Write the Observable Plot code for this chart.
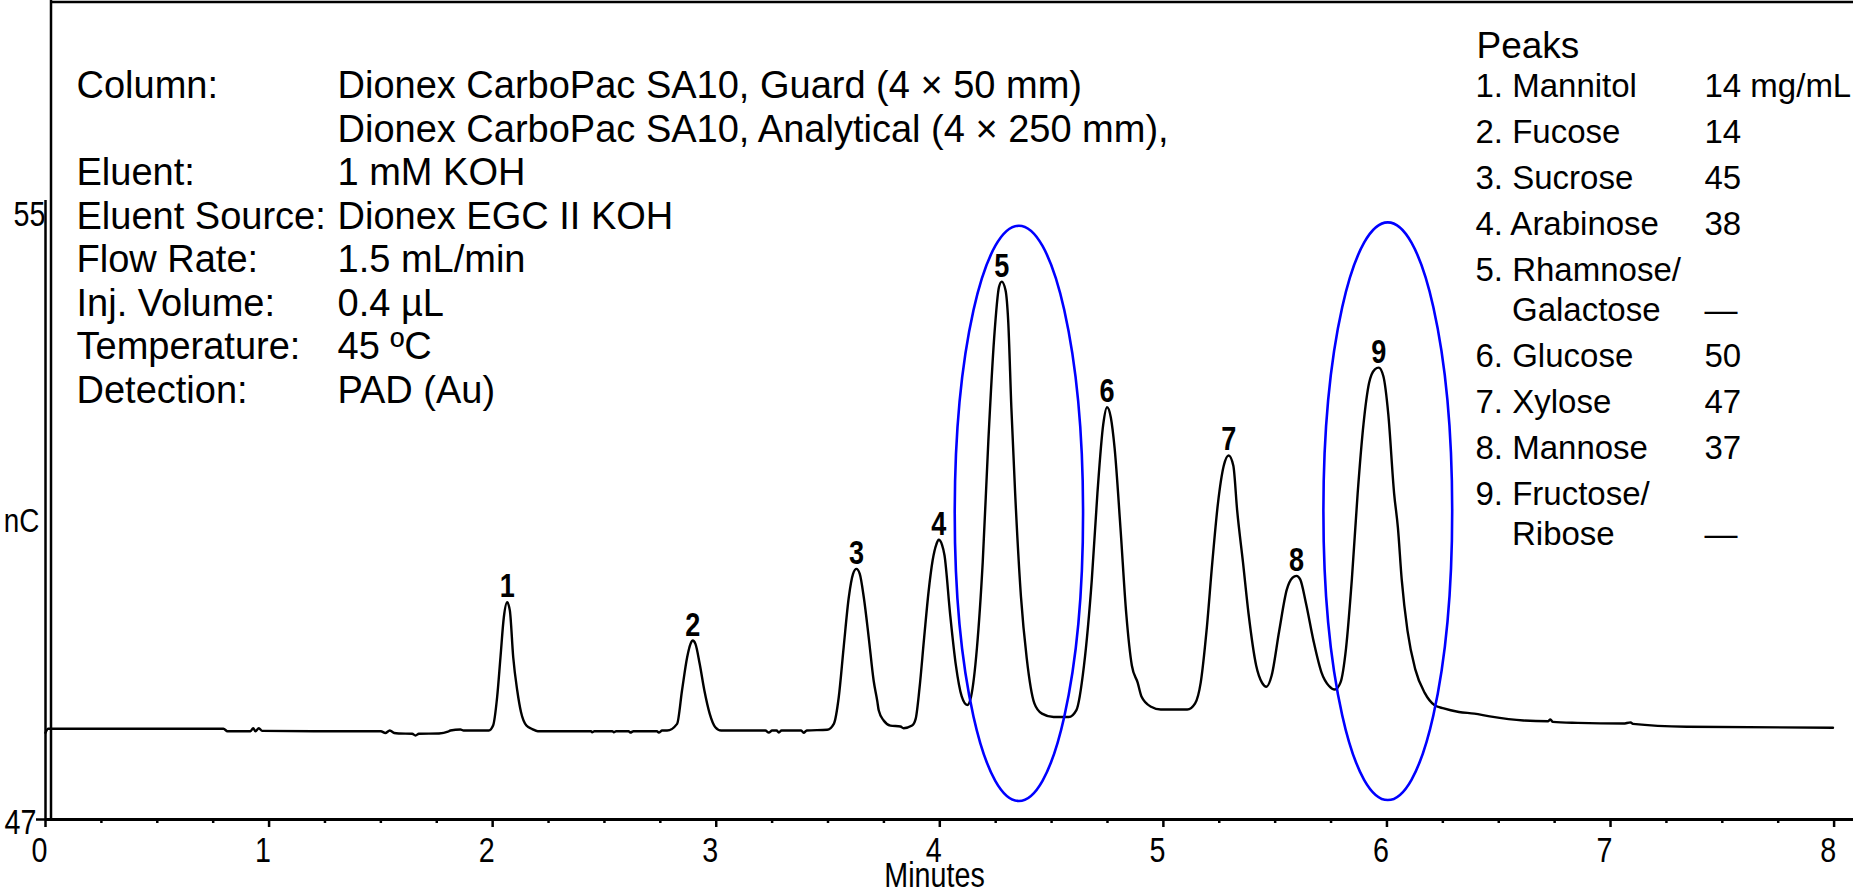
<!DOCTYPE html>
<html>
<head>
<meta charset="utf-8">
<script src="https://cdn.jsdelivr.net/npm/d3@7"></script>
<script src="https://cdn.jsdelivr.net/npm/@observablehq/plot@0.6"></script>
<style>
html, body { margin: 0; padding: 0; background: #ffffff; }
#chart svg { display: block; }
</style>
</head>
<body>
<div id="chart"></div>
<script>
// ---- Chromatogram trace (minutes, nC) ----
const times = [
  0.000, 0.012, 0.036, 0.400, 0.796, 0.814, 0.917, 0.929, 0.939, 0.954, 0.969, 1.200, 1.500, 1.520, 1.540, 1.560,
  1.580, 1.640, 1.655, 1.670, 1.760, 1.800, 1.811, 1.856, 1.870, 1.983,
  2.002, 2.020, 2.035, 2.050, 2.065, 2.077, 2.092, 2.110, 2.127, 2.151, 2.177, 2.202,
  2.300, 2.440, 2.445, 2.455, 2.535, 2.542, 2.552, 2.608, 2.616, 2.630, 2.735, 2.743, 2.758, 2.780,
  2.825, 2.847, 2.870, 2.885, 2.895, 2.907, 2.926, 2.947, 2.971, 2.996, 3.022,
  3.220, 3.235, 3.250, 3.270, 3.280, 3.292, 3.380, 3.391, 3.405, 3.496,
  3.526, 3.548, 3.570, 3.593, 3.612, 3.627, 3.642, 3.660, 3.682, 3.704, 3.720, 3.727, 3.749, 3.779, 3.824, 3.838, 3.876,
  3.892, 3.909, 3.930, 3.950, 3.968, 3.985, 3.995, 4.010, 4.021, 4.046, 4.072, 4.098, 4.123,
  4.140, 4.166, 4.192, 4.217, 4.243, 4.265, 4.277, 4.294, 4.306, 4.320, 4.337, 4.363, 4.389, 4.423, 4.457, 4.509, 4.577,
  4.611, 4.645, 4.680, 4.705, 4.731, 4.748, 4.765, 4.782, 4.808, 4.834, 4.859, 4.885, 4.902, 4.945, 4.988, 5.107,
  5.142, 5.167, 5.193, 5.219, 5.244, 5.270, 5.292, 5.313, 5.330, 5.356, 5.381, 5.415, 5.441, 5.461,
  5.484, 5.518, 5.552, 5.578, 5.595, 5.612, 5.638, 5.672, 5.707, 5.741, 5.767,
  5.792, 5.817, 5.843, 5.869, 5.895, 5.920, 5.946, 5.963, 5.984, 6.006, 6.032, 6.049, 6.066, 6.092, 6.126, 6.169, 6.212,
  6.254, 6.322, 6.391, 6.460, 6.611, 6.720, 6.731, 6.742, 6.852, 7.057, 7.090, 7.100, 7.341, 7.995
];
const signal = [
  48.120, 48.172, 48.172, 48.172, 48.172, 48.141, 48.141, 48.180, 48.141, 48.180, 48.146, 48.141, 48.141, 48.118, 48.150, 48.118,
  48.112, 48.108, 48.085, 48.108, 48.112, 48.135, 48.150, 48.163, 48.150, 48.150,
  48.214, 48.580, 49.097, 49.614, 49.807, 49.700, 49.097, 48.667, 48.386, 48.214, 48.169, 48.141,
  48.141, 48.141, 48.128, 48.141, 48.141, 48.128, 48.141, 48.141, 48.124, 48.141, 48.141, 48.124, 48.150, 48.150,
  48.236, 48.667, 49.097, 49.270, 49.313, 49.270, 49.012, 48.667, 48.366, 48.193, 48.150,
  48.150, 48.124, 48.150, 48.150, 48.124, 48.150, 48.150, 48.120, 48.150, 48.159,
  48.236, 48.580, 49.226, 49.872, 50.174, 50.239, 50.174, 49.872, 49.355, 48.796, 48.537, 48.408, 48.279, 48.214, 48.202, 48.180, 48.214,
  48.300, 48.690, 49.350, 49.950, 50.350, 50.560, 50.615, 50.550, 50.415, 49.659, 48.991, 48.590, 48.479,
  48.590, 49.213, 50.326, 51.884, 53.218, 53.885, 53.952, 53.841, 53.441, 52.328, 51.216, 49.881, 49.080, 48.501, 48.368, 48.324, 48.324,
  48.413, 48.991, 50.103, 51.216, 52.106, 52.328, 52.195, 51.795, 50.771, 49.659, 48.991, 48.769, 48.590, 48.457, 48.421, 48.421,
  48.501, 48.769, 49.437, 50.326, 51.083, 51.571, 51.705, 51.571, 50.994, 50.326, 49.659, 48.991, 48.769, 48.716,
  48.858, 49.437, 49.970, 50.125, 50.149, 50.103, 49.792, 49.302, 48.902, 48.725, 48.680,
  48.769, 49.213, 50.103, 51.216, 52.106, 52.640, 52.818, 52.840, 52.729, 52.239, 51.216, 50.771, 50.103, 49.437, 48.947, 48.636, 48.479,
  48.435, 48.390, 48.368, 48.332, 48.279, 48.270, 48.292, 48.262, 48.249, 48.240, 48.255, 48.236, 48.199, 48.185
];

// ---- Peak labels ----
const peakNumbers = ["1", "2", "3", "4", "5", "6", "7", "8", "9"];
const peakTimes   = [2.065, 2.895, 3.627, 3.995, 4.277, 4.748, 5.292, 5.595, 5.963];
const peakHeights = [49.807, 49.313, 50.239, 50.615, 53.952, 52.328, 51.705, 50.149, 52.840];

// ---- Highlighted (co-eluting) peaks: centre time, centre nC, half-width (min), half-height (nC) ----
const highlightTimes   = [4.356, 6.006];
const highlightLevels  = [50.950, 50.978];
const highlightHalfMin = [0.287, 0.288];
const highlightHalfNC  = [3.717, 3.733];

// ---- Axes ----
const minuteTicks = [0, 1, 2, 3, 4, 5, 6, 7, 8];
const minorTicks = d3.range(0.25, 8, 0.25).filter(t => t % 1 !== 0);
const yTickLow = [47];
const yTickHigh = [55];
const xTitle = "Minutes";
const yTitle = "nC";

// ---- Text blocks ----
const conditionLabels = ["Column:", "", "Eluent:", "Eluent Source:", "Flow Rate:", "Inj. Volume:", "Temperature:", "Detection:"];
const conditionValues = [
  "Dionex CarboPac SA10, Guard (4 × 50 mm)",
  "Dionex CarboPac SA10, Analytical (4 × 250 mm),",
  "1 mM KOH",
  "Dionex EGC II KOH",
  "1.5 mL/min",
  "0.4 µL",
  "45 ºC",
  "PAD (Au)"
];
const legendTitle = "Peaks";
const peakNames = [
  ["1. Mannitol"], ["2. Fucose"], ["3. Sucrose"], ["4. Arabinose"], ["5. Rhamnose/", "Galactose"],
  ["6. Glucose"], ["7. Xylose"], ["8. Mannose"], ["9. Fructose/", "Ribose"]
];
const peakAmounts = ["14 mg/mL", "14", "45", "38", "—", "50", "47", "37", "—"];

// ---- Build ----
const trace = times.map((t, i) => ({t, v: signal[i]}));
const peaks = peakNumbers.map((n, i) => ({n, t: peakTimes[i], v: peakHeights[i]}));
const highlights = highlightTimes.map((t, i) => ({t, v: highlightLevels[i], dt: highlightHalfMin[i], dv: highlightHalfNC[i]}));

const W = 1853, H = 894;
const ML = 51, MT = 2, MB = 75;
const sans = "'Liberation Sans', Arial, Helvetica, sans-serif";
// a narrow face is emulated by horizontally compressing Liberation Sans (see below)
const narrow = "'Liberation Sans Narrow', 'Liberation Sans', Arial, sans-serif";
const NARROW_SCALE = 0.82;
const fmt = d => String(d);

function frameLines(index, scales, values, dims) {
  const g = d3.create("svg:g").attr("stroke", "#000").attr("stroke-width", 2.5).attr("fill", "none");
  g.append("line").attr("x1", dims.marginLeft).attr("x2", dims.width).attr("y1", dims.marginTop).attr("y2", dims.marginTop);
  g.append("line").attr("x1", dims.marginLeft).attr("x2", dims.marginLeft).attr("y1", 0).attr("y2", dims.height - dims.marginBottom);
  return g.node();
}

function ellipseMark(index, scales) {
  const {x, y} = scales;
  const g = d3.create("svg:g").attr("fill", "none").attr("stroke", "#0000ff").attr("stroke-width", 2.6);
  for (const e of highlights) {
    g.append("ellipse")
      .attr("cx", x(e.t)).attr("cy", y(e.v))
      .attr("rx", x(e.t + e.dt) - x(e.t))
      .attr("ry", y(e.v - e.dv) - y(e.v));
  }
  return g.node();
}

const textMarks = [];
// instrument conditions (left block)
const condBase = 97.5, condStep = 43.5, condSize = 38;
conditionLabels.forEach((lab, i) => {
  if (lab) textMarks.push(Plot.text([lab], {text: d => d, frameAnchor: "top-left", dx: 76 - ML, dy: condBase + i * condStep - MT,
    lineAnchor: "bottom", textAnchor: "start", fontSize: condSize, fontFamily: sans, fill: "#000"}));
  textMarks.push(Plot.text([conditionValues[i]], {text: d => d, frameAnchor: "top-left", dx: 337 - ML, dy: condBase + i * condStep - MT,
    lineAnchor: "bottom", textAnchor: "start", fontSize: condSize, fontFamily: sans, fill: "#000"}));
});
// peaks table (right block)
textMarks.push(Plot.text([legendTitle], {text: d => d, frameAnchor: "top-left", dx: 1476 - ML, dy: 57 - MT,
  lineAnchor: "bottom", textAnchor: "start", fontSize: 37, fontFamily: sans, fill: "#000"}));
let base = 96.5;
peakNames.forEach((lines, i) => {
  lines.forEach((line, j) => {
    if (j > 0) base += 40;
    textMarks.push(Plot.text([line], {text: d => d, frameAnchor: "top-left", dx: (j === 0 ? 1475 : 1511.5) - ML, dy: base - MT,
      lineAnchor: "bottom", textAnchor: "start", fontSize: 33, fontFamily: sans, fill: "#000"}));
  });
  textMarks.push(Plot.text([peakAmounts[i]], {text: d => d, frameAnchor: "top-left", dx: 1704 - ML, dy: base - MT,
    lineAnchor: "bottom", textAnchor: "start", fontSize: 33, fontFamily: sans, fill: "#000"}));
  base += 46;
});

const chart = Plot.plot({
  width: W,
  height: H,
  marginLeft: ML,
  marginRight: 0,
  marginTop: MT,
  marginBottom: MB,
  style: {background: "#ffffff", fontFamily: sans, fontSize: "35px", color: "#000"},
  x: {domain: [0, 8], range: [45, 1833.6], label: null},
  y: {domain: [47, 55], range: [819, 200], label: null},
  marks: [
    frameLines,
    // y spine and bottom axis line
    Plot.ruleX([0], {y1: 55, y2: 47, stroke: "#000", strokeWidth: 2.5}),
    Plot.ruleY([47], {stroke: "#000", strokeWidth: 3, insetLeft: -6}),
    // x ticks
    Plot.axisX(minorTicks, {tickSize: 4, strokeWidth: 2.5, tickFormat: () => "", label: null}),
    Plot.axisX(minuteTicks, {tickSize: 8, strokeWidth: 2.5, tickFormat: () => "", label: null}),
    Plot.axisX(minuteTicks, {tickSize: 0, tickPadding: 17.5, dx: -6, tickFormat: fmt, fontSize: 35, fontFamily: narrow, label: null}),
    // y ticks
    Plot.axisY(yTickLow, {tickSize: 9, strokeWidth: 2.5, dx: -6, tickFormat: () => "", label: null}),
    Plot.axisY(yTickLow, {tickSize: 0, tickPadding: 15, dy: 3, tickFormat: fmt, fontSize: 35, fontFamily: narrow, label: null}),
    Plot.axisY(yTickHigh, {tickSize: 0, tickPadding: 6, dy: 14, tickFormat: fmt, fontSize: 35, fontFamily: narrow, label: null}),
    // axis titles
    Plot.text([yTitle], {text: d => d, frameAnchor: "left", dx: -12, dy: 110.5, textAnchor: "end", lineAnchor: "middle", fontSize: 34, fontFamily: narrow, fill: "#000"}),
    Plot.text([xTitle], {text: d => d, frameAnchor: "bottom", dx: -18, dy: 67, lineAnchor: "bottom", fontSize: 35, fontFamily: narrow, fill: "#000"}),
    // trace
    Plot.line(trace, {x: "t", y: "v", stroke: "#000", strokeWidth: 2.4, curve: "monotone-x"}),
    // highlight ellipses
    ellipseMark,
    // peak numbers
    Plot.text(peaks, {x: "t", y: "v", text: "n", dy: -5, lineAnchor: "bottom", fontSize: 33, fontWeight: "bold", fontFamily: narrow, fill: "#000"}),
    ...textMarks
  ]
});

// emulate the condensed face: compress each narrow text around its own anchor
chart.querySelectorAll("text").forEach(el => {
  const host = el.closest("[font-family]");
  const fam = host ? host.getAttribute("font-family") : "";
  if (!fam || fam.indexOf("Narrow") < 0) return;
  const x = parseFloat(el.getAttribute("x")) || 0;
  const t = el.getAttribute("transform") || "";
  el.setAttribute("transform", `${t} translate(${x},0) scale(${NARROW_SCALE},1) translate(${-x},0)`.trim());
});

document.getElementById("chart").appendChild(chart);
</script>
</body>
</html>
